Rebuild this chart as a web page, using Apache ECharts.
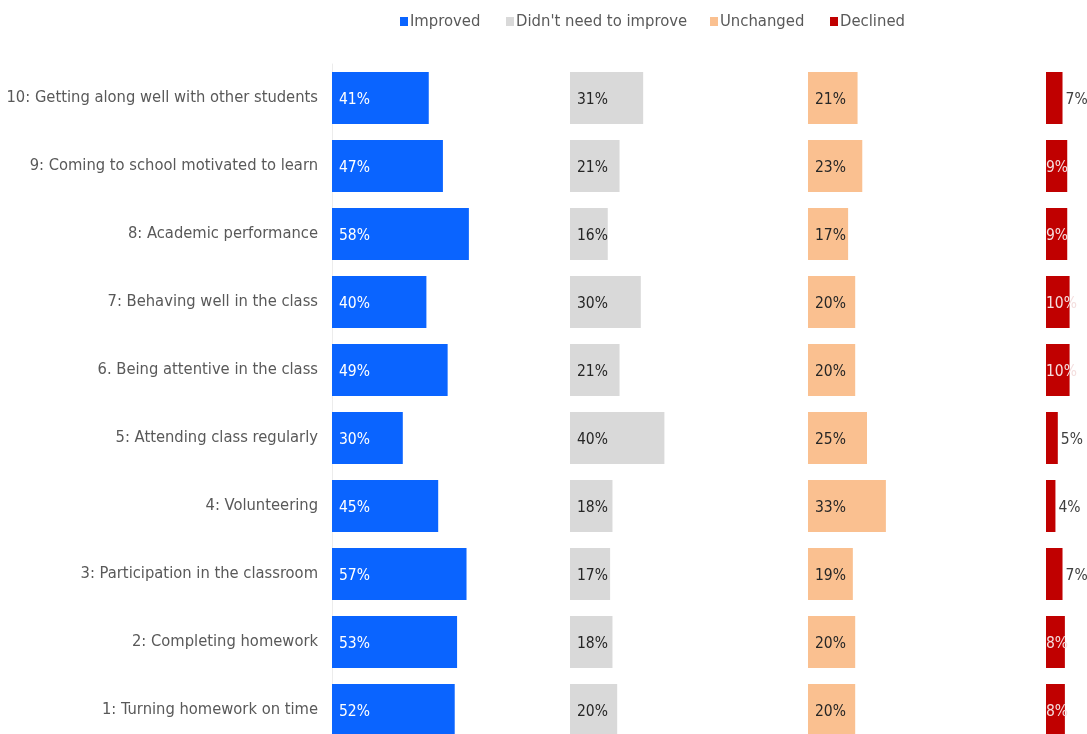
<!DOCTYPE html>
<html>
<head>
<meta charset="utf-8">
<script src="https://cdn.jsdelivr.net/npm/echarts@6/dist/echarts.min.js"></script>
<style>
  html, body { margin: 0; padding: 0; background: #fff; }
  #chart { width: 1087px; height: 734px; }
</style>
</head>
<body>
<div id="chart"></div>
<script>
// Outcome items, listed top to bottom
const categories = [
  '10: Getting along well with other students',
  '9: Coming to school motivated to learn',
  '8: Academic performance',
  '7: Behaving well in the class',
  '6. Being attentive in the class',
  '5: Attending class regularly',
  '4: Volunteering',
  '3: Participation in the classroom',
  '2: Completing homework',
  '1: Turning homework on time'
];

// Share of responses (%) per outcome
const improved      = [41, 47, 58, 40, 49, 30, 45, 57, 53, 52];
const didntNeed     = [31, 21, 16, 30, 21, 40, 18, 17, 18, 20];
const unchanged     = [21, 23, 17, 20, 20, 25, 33, 19, 20, 20];
const declined      = [7, 9, 9, 10, 10, 5, 4, 7, 8, 8];

const seriesNames = ['Improved', "Didn't need to improve", 'Unchanged', 'Declined'];
const seriesData = [improved, didntNeed, unchanged, declined];
const colors = ['#0A64FF', '#D9D9D9', '#FAC090', '#C00000'];
const labelColors = ['#ffffff', '#262626', '#262626', '#f4dede'];

const FONT = "'Liberation Sans Narrow', 'Arial Narrow', 'DejaVu Sans Condensed', sans-serif";

const panelLefts = [332, 570, 808, 1046];
const panelWidth = 236;
const gridTop = 64;
const gridHeight = 680;
const legendLefts = [400, 506, 710, 830];

const grids = panelLefts.map(l => ({
  left: l, width: panelWidth, top: gridTop, height: gridHeight,
  containLabel: false, outerBoundsMode: 'none'
}));

const xAxes = panelLefts.map((_, i) => ({
  gridIndex: i, type: 'value', min: 0, max: 100,
  show: false
}));

const yAxes = panelLefts.map((_, i) => ({
  gridIndex: i, type: 'category', data: categories, inverse: true,
  axisTick: { show: false },
  axisLine: { show: i === 0, lineStyle: { color: '#ececec', width: 1 } },
  axisLabel: {
    show: i === 0, margin: 14,
    fontFamily: FONT, fontSize: 16.4, color: '#595959',
    padding: [4, 0, 0, 0]
  },
  splitLine: { show: false }
}));

const series = seriesData.map((vals, i) => ({
  name: seriesNames[i],
  type: 'bar',
  xAxisIndex: i, yAxisIndex: i,
  barWidth: 52,
  itemStyle: { color: colors[i] },
  data: vals.map(v => {
    const item = { value: v };
    if (i === 3) {
      // narrow declined bars: small values get their label just past the bar end
      if (v <= 7) {
        item.label = { position: 'right', distance: 3, color: '#404040' };
      } else {
        item.label = { position: 'insideLeft', distance: 0, color: labelColors[3] };
      }
    }
    return item;
  }),
  label: {
    show: true,
    position: 'insideLeft',
    distance: 7,
    offset: [0, 2],
    formatter: p => p.value + '%',
    fontFamily: FONT,
    fontSize: 15.5,
    color: labelColors[i]
  }
}));

const legends = seriesNames.map((name, i) => ({
  data: [name],
  top: 13,
  left: legendLefts[i],
  padding: 0,
  icon: 'rect',
  itemWidth: 8,
  itemHeight: 9,
  textStyle: { fontFamily: FONT, fontSize: 16.5, color: '#595959', padding: [0, 0, 0, -3] }
}));

const chart = echarts.init(document.getElementById('chart'), null, { renderer: 'canvas' });
chart.setOption({
  animation: false,
  backgroundColor: '#ffffff',
  legend: legends,
  grid: grids,
  xAxis: xAxes,
  yAxis: yAxes,
  series: series
});
</script>
</body>
</html>
